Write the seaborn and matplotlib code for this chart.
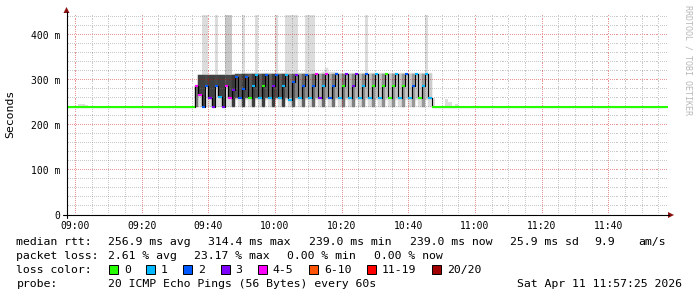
import matplotlib
matplotlib.use("Agg")
import matplotlib.pyplot as plt
import seaborn as sns
import numpy as np
import pandas as pd
from matplotlib.patches import Rectangle, Polygon
from matplotlib.lines import Line2D

# ---------------- data (minutes after 09:00, one value per minute) ----------------
pre_minutes = list(range(-3, 36))
pre_median = [239.0] * len(pre_minutes)          # quiet period, 0 loss
post_minutes = list(range(107, 178))
post_median = [239.0] * len(post_minutes)        # quiet period, 0 loss

burst_minutes = list(range(36, 107))
burst_median = [
    287, 267, 240, 287, 260, 240, 287, 262, 240,
    287, 260, 278, 307, 260, 280, 307, 260, 287,
    312, 260, 286, 312, 260, 287, 312, 260, 287,
    310, 255, 295, 312, 260, 287, 312, 260, 287,
    313, 260, 287, 313, 260, 287, 313, 260, 287,
    313, 260, 287, 313, 260, 287, 313, 260, 287,
    313, 260, 287, 313, 260, 287, 313, 260, 287,
    313, 260, 287, 313, 260, 287, 313, 260,
]
burst_loss = [
    4, 4, 2, 2, 3, 3, 2, 1, 3,
    4, 4, 3, 2, 2, 2, 2, 0, 1,
    1, 1, 0, 2, 1, 3, 2, 1, 1,
    1, 1, 2, 3, 1, 2, 2, 1, 2,
    4, 3, 1, 4, 2, 2, 2, 1, 0,
    3, 1, 3, 3, 1, 1, 2, 1, 0,
    1, 1, 0, 0, 0, 0, 1, 1, 0,
    2, 1, 2, 1, 0, 1, 1, 1,
]
# smoke (ping spread) per burst minute
burst_ping_min = [
    240, 240, 239, 240, 240, 239, 240, 240, 239,
    240, 240, 240, 255, 240, 240, 255, 240, 240,
    255, 240, 240, 255, 240, 240, 255, 240, 240,
    255, 240, 240, 255, 240, 240, 255, 240, 240,
    255, 240, 240, 255, 240, 240, 255, 240, 240,
    255, 240, 240, 255, 240, 240, 255, 240, 240,
    255, 240, 240, 255, 240, 240, 255, 240, 240,
    255, 240, 240, 255, 240, 240, 255, 240,
]
burst_core_lo = [
    240, 267, 240, 287, 260, 240, 287, 262, 240,
    287, 260, 240, 260, 260, 240, 260, 260, 240,
    260, 260, 240, 260, 260, 240, 260, 260, 240,
    260, 260, 240, 260, 260, 240, 260, 260, 240,
    260, 260, 240, 260, 260, 240, 260, 260, 240,
    260, 260, 240, 260, 260, 240, 260, 260, 240,
    260, 260, 240, 260, 260, 240, 260, 260, 240,
    260, 260, 240, 260, 260, 240, 260, 260,
]
burst_core_hi = [
    287, 312, 312, 312, 312, 312, 312, 312, 312,
    312, 312, 312, 313, 313, 313, 313, 313, 313,
    313, 313, 313, 313, 313, 313, 313, 313, 313,
    313, 313, 313, 313, 313, 313, 313, 313, 313,
    313, 313, 313, 313, 313, 313, 313, 313, 313,
    313, 313, 313, 313, 313, 313, 313, 313, 313,
    313, 313, 313, 313, 313, 313, 313, 313, 313,
    313, 313, 313, 313, 313, 313, 313, 313,
]
burst_ping_max = [
    290, 312, 312, 312, 312, 312, 312, 312, 312,
    312, 313, 313, 314, 314, 314, 315, 315, 315,
    315, 315, 315, 315, 315, 315, 315, 315, 315,
    315, 315, 315, 315, 315, 315, 315, 315, 315,
    315, 315, 318, 327, 318, 318, 318, 315, 315,
    315, 315, 315, 315, 315, 315, 315, 315, 315,
    315, 315, 315, 315, 315, 315, 315, 315, 315,
    315, 315, 315, 315, 315, 315, 315, 315,
]
burst_density = [
    0.55, 0.75, 0.75, 0.72, 0.75, 0.75, 0.72, 0.75, 0.75,
    0.72, 0.72, 0.78, 0.70, 0.66, 0.78, 0.70, 0.64, 0.76,
    0.70, 0.62, 0.76, 0.68, 0.60, 0.76, 0.70, 0.62, 0.76,
    0.58, 0.50, 0.68, 0.50, 0.42, 0.62, 0.45, 0.38, 0.60,
    0.40, 0.34, 0.58, 0.38, 0.32, 0.56, 0.36, 0.30, 0.54,
    0.32, 0.27, 0.50, 0.30, 0.25, 0.48, 0.28, 0.23, 0.46,
    0.26, 0.22, 0.44, 0.25, 0.21, 0.42, 0.25, 0.21, 0.42,
    0.24, 0.20, 0.40, 0.24, 0.20, 0.40, 0.24, 0.20,
]
# single outlier pings reaching the top of the graph
spike_minutes = [38, 39, 42, 45, 46, 50, 54, 60, 63, 64, 65, 66, 69, 70, 71, 87, 105]
spike_pings = [1, 1, 1, 2, 2, 1, 1, 1, 1, 1, 1, 1, 1, 1, 1, 1, 1]
spike_top = 445
# faint smoke during the quiet periods
quiet_smoke_minutes = [1, 2, 3, 107, 111, 112, 114, 120, 129, 135, 150, 164, 167]
quiet_smoke_top = [246, 246, 244, 260, 258, 251, 246, 242, 242, 242, 242, 242, 242]

x_tick_minutes = [0, 20, 40, 60, 80, 100, 120, 140, 160]
x_tick_labels = ["09:00", "09:20", "09:40", "10:00", "10:20", "10:40", "11:00", "11:20", "11:40"]
y_ticks = [0, 100, 200, 300, 400]
y_tick_labels = ["0", "100 m", "200 m", "300 m", "400 m"]

loss_bins = [0, 1, 2, 3, 5, 10, 19, 20]
loss_labels = ["0", "1", "2", "3", "4-5", "6-10", "11-19", "20/20"]
loss_colors = ["#26ff00", "#00b8ff", "#0059ff", "#7e00ff", "#ff00ff", "#ff5500", "#ff0000", "#a10000"]

# ---------------- figure ----------------
W, H = 697, 297
sns.set_theme(style="white")
plt.rcParams["font.family"] = ["DejaVu Sans Mono", "DejaVu Sans"]
MONO = "DejaVu Sans Mono"

fig = plt.figure(figsize=(W / 100, H / 100), dpi=100)
fig.patch.set_facecolor("white")
ax = fig.add_axes([66.5 / W, (H - 215) / H, 601 / W, 200 / H])
ax.set_facecolor("white")
PX_PER_MIN = 600 / 180
PX_PER_MS = 0.45
x_left = -8.5 / PX_PER_MIN
ax.set_xlim(x_left, x_left + 601 / PX_PER_MIN)
ax.set_ylim(0, 200 / PX_PER_MS)


def loss_color(n):
    for b, c in zip(loss_bins, loss_colors):
        if n <= b:
            return c
    return loss_colors[-1]


# light smoke (whole ping spread)
ax.bar(burst_minutes, [t - b for t, b in zip(burst_ping_max, burst_ping_min)],
       bottom=burst_ping_min, width=1, align="edge", color="#dddddd",
       edgecolor="#dddddd", linewidth=0.3, zorder=1)
ax.bar(spike_minutes, [spike_top - 300] * len(spike_minutes), bottom=300, width=1,
       align="edge", color=["#dcdcdc" if p == 1 else "#c8c8c8" for p in spike_pings],
       linewidth=0, zorder=0.9)
ax.bar(quiet_smoke_minutes, [t - 239 for t in quiet_smoke_top], bottom=239, width=1,
       align="edge", color="#dddddd", linewidth=0, zorder=1)
# dense core of the smoke
core_cols = [str(round(1 - d, 3)) for d in burst_density]
ax.bar(burst_minutes, [h - l for h, l in zip(burst_core_hi, burst_core_lo)],
       bottom=burst_core_lo, width=1, align="edge", color=core_cols,
       edgecolor=core_cols, linewidth=0.3, zorder=1.1)

# median line
minutes = pre_minutes + burst_minutes + post_minutes
median = pre_median + burst_median + post_median
loss = [0] * len(pre_minutes) + burst_loss + [0] * len(post_minutes)
df = pd.DataFrame({"minute": minutes, "median": median, "loss": loss})
sns.lineplot(data=df, x="minute", y="median", drawstyle="steps-post", color="black",
             lw=0.8, ax=ax, estimator=None, zorder=3)
ax.hlines(df["median"], df["minute"], df["minute"] + 1,
          colors=[loss_color(n) for n in df["loss"]], lw=1.5, zorder=4)

# dotted grid (1px dots every 2px, like rrdtool)
x_major = x_tick_minutes
x_minor = [m for m in range(0, 178, 5) if m not in x_major]
y_major = [v for v in y_ticks if v > 0]
y_minor = [v for v in range(20, 441, 20) if v not in y_major]
dot_x = x_left + (np.arange(67.5, 667, 2) - 66.5) / PX_PER_MIN
dot_y = (215 - np.arange(16.5, 214, 2)) / PX_PER_MS


def dotted(vals, horizontal, color, alpha):
    for v in vals:
        if horizontal:
            xs, ys = dot_x, np.full(dot_x.shape, float(v))
        else:
            ys = dot_y
            xs = np.full(dot_y.shape, float(v))
        ax.plot(xs, ys, linestyle="none", marker=",", color=color, alpha=alpha,
                zorder=1.5)


dotted(y_minor, True, "#808080", 0.42)
dotted(x_minor, False, "#808080", 0.42)
dotted(y_major, True, "#d00000", 0.42)
dotted(x_major, False, "#d00000", 0.42)

ax.set_xticks(x_tick_minutes)
ax.set_xticklabels(x_tick_labels)
ax.set_yticks(y_ticks)
ax.set_yticklabels(y_tick_labels)
ax.grid(False)
for s in ax.spines.values():
    s.set_visible(False)
ax.tick_params(axis="both", which="major", direction="out", length=3, width=0.7,
               color="black", labelsize=7, pad=1.5)
for lab in ax.get_xticklabels() + ax.get_yticklabels():
    lab.set_fontfamily(MONO)
    lab.set_color("black")
ax.set_xlabel("")
ax.set_ylabel("")


def fx(px):
    return px / W


def fy(py):
    return 1 - py / H


# axis lines and arrows
fig.add_artist(Line2D([fx(66.5), fx(66.5)], [fy(218), fy(12)], color="black", lw=0.8))
fig.add_artist(Line2D([fx(63), fx(669)], [fy(215), fy(215)], color="black", lw=0.8))
fig.add_artist(Polygon([[fx(63.5), fy(13)], [fx(69.5), fy(13)], [fx(66.5), fy(7)]],
                       closed=True, color="#8b1010", lw=0))
fig.add_artist(Polygon([[fx(668), fy(212)], [fx(668), fy(218)], [fx(674), fy(215)]],
                       closed=True, color="#8b1010", lw=0))


def ftext(px, py, s, **kw):
    kw.setdefault("fontsize", 8.25)
    kw.setdefault("family", MONO)
    kw.setdefault("va", "baseline")
    kw.setdefault("color", "black")
    fig.text(fx(px), fy(py), s, **kw)


ftext(10, 113.5, "Seconds", rotation=90, ha="center", va="center")
ftext(688, 60, "RRDTOOL / TOBI OETIKER", rotation=270, ha="center", va="center",
      fontsize=6, color="#b8b8b8")

row1 = [(16.5, "median rtt:"), (108, "256.9 ms avg"), (208.5, "314.4 ms max"),
        (309, "239.0 ms min"), (410, "239.0 ms now"), (510.5, "25.9 ms sd"),
        (594, "9.9"), (638, "am/s")]
for x, s in row1:
    ftext(x, 245, s)
row2 = [(16.5, "packet loss:"), (108, "2.61 % avg"), (194, "23.17 % max"),
        (287, "0.00 % min"), (374, "0.00 % now")]
for x, s in row2:
    ftext(x, 259, s)
ftext(16.5, 273, "loss color:")
sw_x = [108.6, 146, 183, 220.7, 258, 309, 367, 432]
lab_x = [123.8, 161, 198, 235.5, 272.6, 324, 382, 447]
for sx, lx, c, lab in zip(sw_x, lab_x, loss_colors, loss_labels):
    fig.add_artist(Rectangle((fx(sx), fy(273.5)), 9 / W, 9 / H, facecolor=c,
                             edgecolor="black", lw=0.7))
    ftext(lx, 273, lab)
ftext(16.5, 287, "probe:")
ftext(108, 287, "20 ICMP Echo Pings (56 Bytes) every 60s")
ftext(682, 287, "Sat Apr 11 11:57:25 2026", ha="right")

fig.savefig("out.png", dpi=100, facecolor="white")
